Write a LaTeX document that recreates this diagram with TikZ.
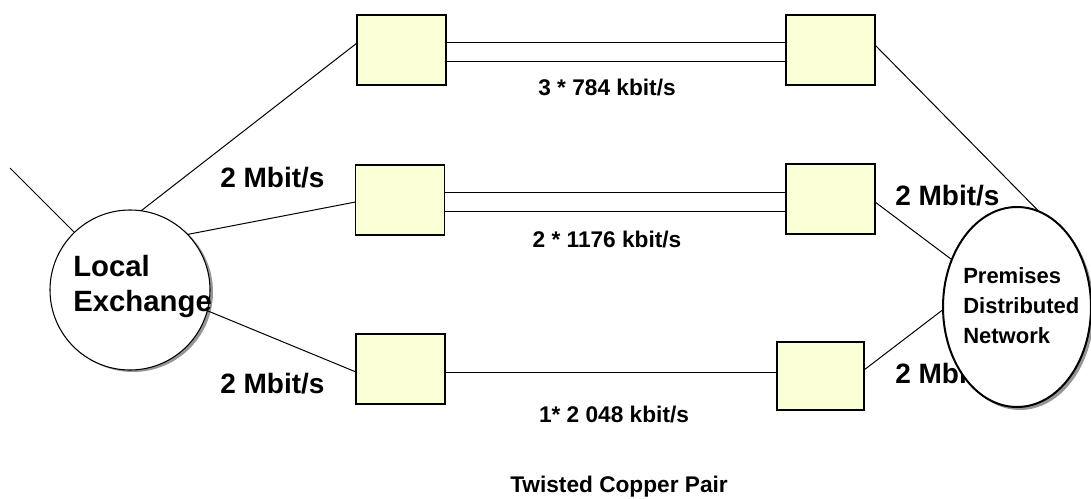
\documentclass[tikz,border=0pt]{standalone}
\usepackage{fontspec}
\setmainfont{Liberation Sans}
\usetikzlibrary{calc,shapes.geometric}
\definecolor{boxfill}{RGB}{250,255,214}
\definecolor{shadowgray}{RGB}{150,150,150}
\tikzset{
  boxnode/.style={draw, fill=boxfill, line width=0.9pt, minimum width=66.75pt, minimum height=52.5pt, inner sep=0pt, outer sep=0pt},
  wire/.style={line width=0.75pt},
  ratelabel/.style={font=\bfseries\fontsize{17pt}{20pt}\selectfont, inner sep=0pt},
  mbitlabel/.style={font=\bfseries\fontsize{21pt}{24pt}\selectfont, inner sep=0pt, anchor=base west},
}
\begin{document}
\begin{tikzpicture}[x=0.75pt, y=-0.75pt]
\useasboundingbox (0,0) rectangle (1091,499);
% boxes
\node[boxnode] (b1) at (401.5,50) {};
\node[boxnode] (b2) at (830.5,50) {};
\node[boxnode] (b3) at (400,200) {};
\node[boxnode] (b4) at (830.5,199) {};
\node[boxnode] (b5) at (400.5,369) {};
\node[boxnode, minimum width=65.25pt, minimum height=51pt] (b6) at (820.5,376) {};
% local exchange circle (shadow + circle)
\node[circle, fill=shadowgray, minimum size=120pt, inner sep=0pt] (leshadow) at (133,292) {};
\node[circle, draw, fill=white, line width=0.8pt, minimum size=120pt, inner sep=0pt, outer sep=0pt] (le) at (130,290) {};
\coordinate (free) at (10,168);
% connectors
\draw[wire] (free) -- (le.134);
\draw[wire] (le.82) -- ($(b1.west)+(0,-7)$);
\draw[wire] (le.44) -- ($(b3.west)+(0,2)$);
\draw[wire] (le.-15) -- ($(b5.west)+(0,3)$);
\draw[wire] ($(b1.east)+(0,-7)$) -- ($(b2.west)+(0,-7)$);
\draw[wire] ($(b1.east)+(0,12)$) -- ($(b2.west)+(0,12)$);
\coordinate (m1) at ($(b3.east)+(0,-8)$);
\coordinate (m2) at ($(b3.east)+(0,11)$);
\draw[wire] (m1) -- (m1 -| b4.west);
\draw[wire] (m2) -- (m2 -| b4.west);
\coordinate (m3) at ($(b5.east)+(0,3)$);
\draw[wire] (m3) -- (m3 -| b6.west);
% labels
\node[mbitlabel] (l1) at (220,187) {2 Mbit/s};
\node[mbitlabel] (l2) at (220,393) {2 Mbit/s};
\node[mbitlabel] (l3) at (895,205) {2 Mbit/s};
\node[mbitlabel] (l4) at (895,383) {2 Mbit/s};
\node[ratelabel] (r1) at (607,88) {3 * 784 kbit/s};
\node[ratelabel] (r2) at (607,240) {2 * 1176 kbit/s};
\node[ratelabel] (r3) at (614,415) {1* 2 048 kbit/s};
\node[ratelabel] (r4) at (619,487) {Twisted Copper Pair};
% premises ellipse
\node[ellipse, fill=shadowgray, minimum width=111pt, minimum height=150pt, inner sep=0pt] (pdshadow) at (1020,310) {};
\node[ellipse, draw, fill=white, line width=1.5pt, minimum width=111pt, minimum height=150pt, inner sep=0pt, outer sep=0pt] (pd) at (1017,307) {};
\draw[wire] ($(b2.east)+(0,-5)$) -- (pd.77);
\draw[wire] ($(b4.east)+(0,3)$) -- (pd.144);
\draw[wire] ($(b6.east)+(0,-6)$) -- (pd.182);
% texts
\node[anchor=north west, align=left, inner sep=0pt, font=\bfseries\fontsize{22pt}{26pt}\selectfont] (letext) at (73,255) {Local\\Exchange};
\node[anchor=north west, align=left, inner sep=0pt, font=\bfseries\fontsize{16.5pt}{22.5pt}\selectfont] (pdtext) at (963,267) {Premises\\Distributed\\Network};
\end{tikzpicture}
\end{document}
